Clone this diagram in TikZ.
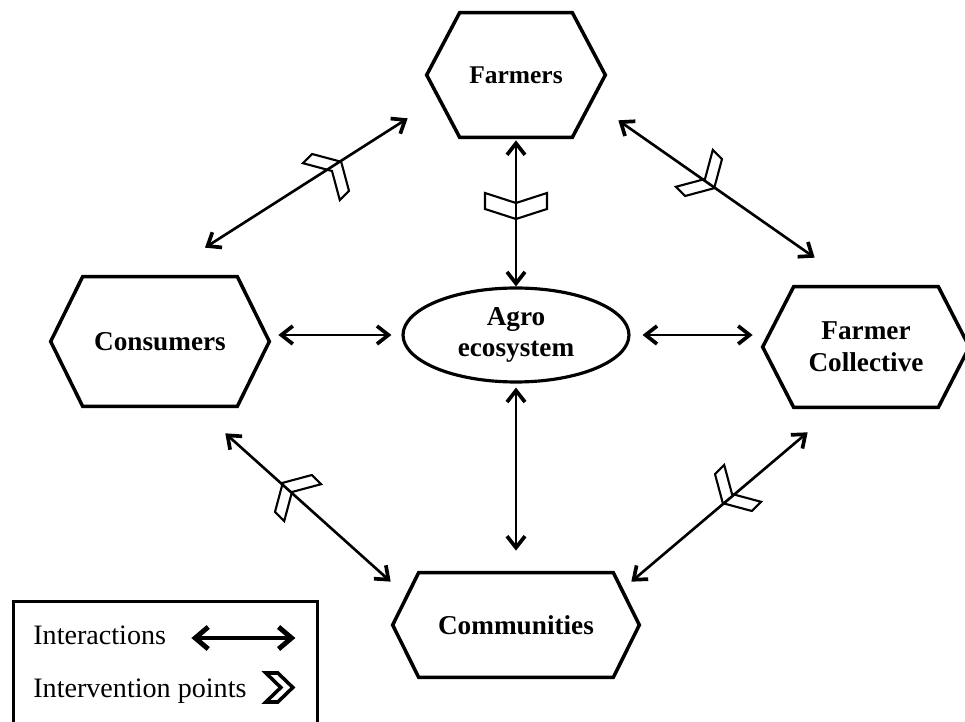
\documentclass[tikz,border=0pt]{standalone}
\usepackage{fontspec}
\setmainfont{Liberation Serif}
\usetikzlibrary{arrows.meta,calc,shapes.geometric}

% outline of a hexagon with pointed left/right ends around a (hidden) box node
\newcommand\hexoutline[2]{%
  \draw[hexline] (#1.west) -- ([xshift=#2]#1.north west) -- ([xshift=-#2]#1.north east)
    -- (#1.east) -- ([xshift=-#2]#1.south east) -- ([xshift=#2]#1.south west) -- cycle;}

\tikzset{
  hexbox/.style={draw=none, inner sep=0pt, align=center,
    font=\bfseries\fontsize{15.5}{18}\selectfont},
  hexline/.style={line width=2pt, line join=miter},
  biarrow/.style={line width=1.5pt,
    {Straight Barb[length=2.3mm,width=3.6mm,line width=2.1pt]}-{Straight Barb[length=2.3mm,width=3.6mm,line width=2.1pt]}},
  legarrow/.style={line width=2.2pt,
    {Straight Barb[length=2.6mm,width=4.4mm,line width=2.8pt]}-{Straight Barb[length=2.6mm,width=4.4mm,line width=2.8pt]}},
  chevline/.style={line width=1.2pt, line join=miter},
  legtext/.style={inner sep=0pt, anchor=base west, font=\fontsize{16}{19}\selectfont},
  % intervention-point chevrons, pointing along +x, notch at the origin
  chevwide/.pic={\draw[chevline] (0,0) -- (-10,31) -- (6,31) -- (16,0) -- (6,-31) -- (-10,-31) -- cycle;},
  chevnarrow/.pic={\draw[chevline] (0,0) -- (-15,26) -- (-2,26) -- (13,0) -- (-2,-26) -- (-15,-26) -- cycle;},
}

\begin{document}
\begin{tikzpicture}[x=0.02cm, y=-0.02cm]
\useasboundingbox (0,0) rectangle (965,722);

% actors
\node[hexbox, minimum width=3.56cm, minimum height=2.48cm,
      font=\bfseries\fontsize{14.5}{17}\selectfont] (farm) at (516,75) {Farmers};
\node[hexbox, minimum width=4.36cm, minimum height=2.58cm] (cons) at (160,341.5) {Consumers};
\node[hexbox, minimum width=4.12cm, minimum height=2.40cm] (coll) at (866,347) {Farmer\\Collective};
\node[hexbox, minimum width=4.92cm, minimum height=2.08cm] (comm) at (516,625) {Communities};
\hexoutline{farm}{0.66cm}
\hexoutline{cons}{0.64cm}
\hexoutline{coll}{0.62cm}
\hexoutline{comm}{0.52cm}

% the agro-ecosystem in the middle
\node[ellipse, draw, line width=1.8pt, inner sep=0pt, minimum width=4.52cm, minimum height=1.88cm,
      align=center, font=\bfseries\fontsize{15.5}{18}\selectfont] (agro) at (516,335) {Agro\\ecosystem};

% interactions
\draw[biarrow] ([shift={(45,-29)}]cons.north) -- ([shift={(-19,-19)}]farm.south west);
\draw[biarrow] ([shift={(13,-17)}]farm.south east) -- ([shift={(52,-29)}]coll.north west);
\draw[biarrow] ([shift={(0,3)}]farm.south) -- (agro.north);
\draw[biarrow] ($(cons.east |- agro.center)+(9,0)$) -- ([shift={(-10,0)}]agro.west);
\draw[biarrow] ([shift={(12,0)}]agro.east) -- ($(coll.west |- agro.center)+(-10,0)$);
\draw[biarrow] ([shift={(0,4)}]agro.south) -- ([shift={(0,-22)}]comm.north);
\draw[biarrow] ([shift={(-44,27)}]cons.south east) -- ([shift={(-2,9)}]comm.north west);
\draw[biarrow] ([shift={(-8,9)}]comm.north east) -- ([shift={(45,25)}]coll.south west);

% intervention points
\pic[rotate=-90] at (516,203) {chevwide};
\pic[rotate=45]  at (332,171) {chevnarrow};
\pic[rotate=-45] at (705,179) {chevnarrow};
\pic[rotate=135] at (292,492) {chevnarrow};
\pic[rotate=225] at (732,494) {chevnarrow};

% legend
\node[draw, line width=1.7pt, anchor=north west, minimum width=6.08cm, minimum height=3cm,
      inner sep=0pt] (legend) at (12,600) {};
\node[legtext] (lint) at (33,645) {Interactions};
\node[legtext] (lpts) at (33,698) {Intervention points};
\draw[legarrow] ([shift={(25,-7)}]lint.base east) -- ++(104,0);
\draw[line width=2pt, line join=miter] ($(lpts.base east)+(19,-25)$) -- ++(12,0) -- ++(15,14.5)
  -- ++(-15,14.5) -- ++(-12,0) -- ++(15,-14.5) -- cycle;
\end{tikzpicture}
\end{document}
